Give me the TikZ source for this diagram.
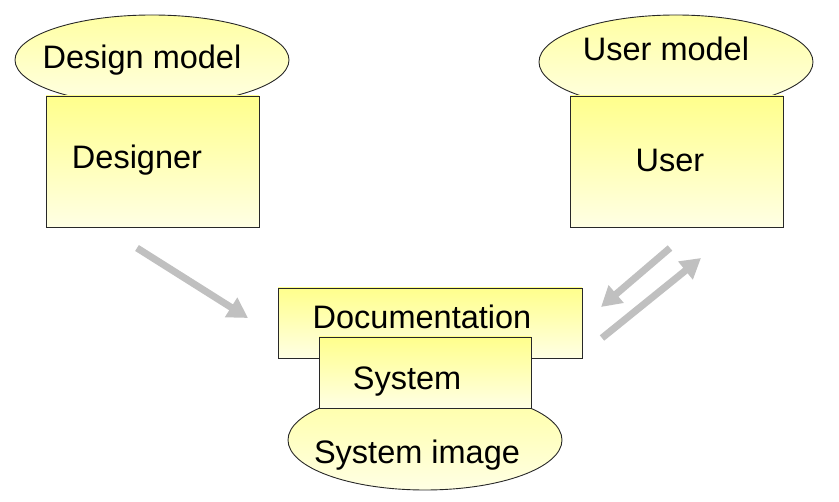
\documentclass[tikz,border=0pt]{standalone}
\usepackage{fontspec}
\setmainfont{Liberation Sans}
\usetikzlibrary{arrows.meta,shapes.geometric}
\definecolor{ytop}{RGB}{255,255,140}
\definecolor{ybot}{RGB}{255,255,228}
\definecolor{arrowgray}{RGB}{192,192,192}
\definecolor{edge}{RGB}{40,40,40}
\tikzset{
  box/.style={rectangle, draw=edge, line width=0.9pt, inner sep=0pt, shading=axis, top color=ytop, bottom color=ybot},
  oval/.style={ellipse, draw=edge, line width=0.9pt, inner sep=0pt, shading=axis, top color=ytop!80!white, bottom color=ybot},
  lbl/.style={inner sep=0pt, font=\fontsize{32.5}{36}\selectfont},
  garrow/.style={draw=arrowgray, line width=7pt, -{Triangle[width=22pt,length=20pt]}}
}
\begin{document}
\begin{tikzpicture}[x=1pt,y=-1pt]
\useasboundingbox (0,0) rectangle (839,502);
% Designer group
\node[oval, minimum width=274pt, minimum height=90pt] (dm) at (152,60) {};
\node[box, minimum width=213pt, minimum height=131pt] (des) at (152.5,161.5) {};
\node[lbl] (dmt) at (142,60) {Design model};
\node[lbl] (dest) at (137,160) {Designer};
% User group
\node[oval, minimum width=274pt, minimum height=94pt] (um) at (676,62) {};
\node[box, minimum width=213pt, minimum height=131pt] (usr) at (676.5,161.5) {};
\node[lbl] (umt) at (666,49) {User model};
\node[lbl] (usrt) at (670,160) {User};
% System group
\node[box, minimum width=304pt, minimum height=70pt] (doc) at (430,323) {};
\node[oval, minimum width=274pt, minimum height=100pt] (si) at (425,440) {};
\node[box, minimum width=212pt, minimum height=71pt] (sys) at (425,372.5) {};
\node[lbl] (doct) at (422,317) {Documentation};
\node[lbl] (syst) at (407,382) {System};
\node[lbl] (sit) at (417,455) {System image};
% Arrows
\coordinate (a1s) at (137,248);
\coordinate (a1e) at (248,318);
\coordinate (a2s) at (670,248);
\coordinate (a2e) at (601,307);
\coordinate (a3s) at (602,338);
\coordinate (a3e) at (701,258);
\draw[garrow] (a1s) -- (a1e);
\draw[garrow] (a2s) -- (a2e);
\draw[garrow] (a3s) -- (a3e);
\end{tikzpicture}
\end{document}
